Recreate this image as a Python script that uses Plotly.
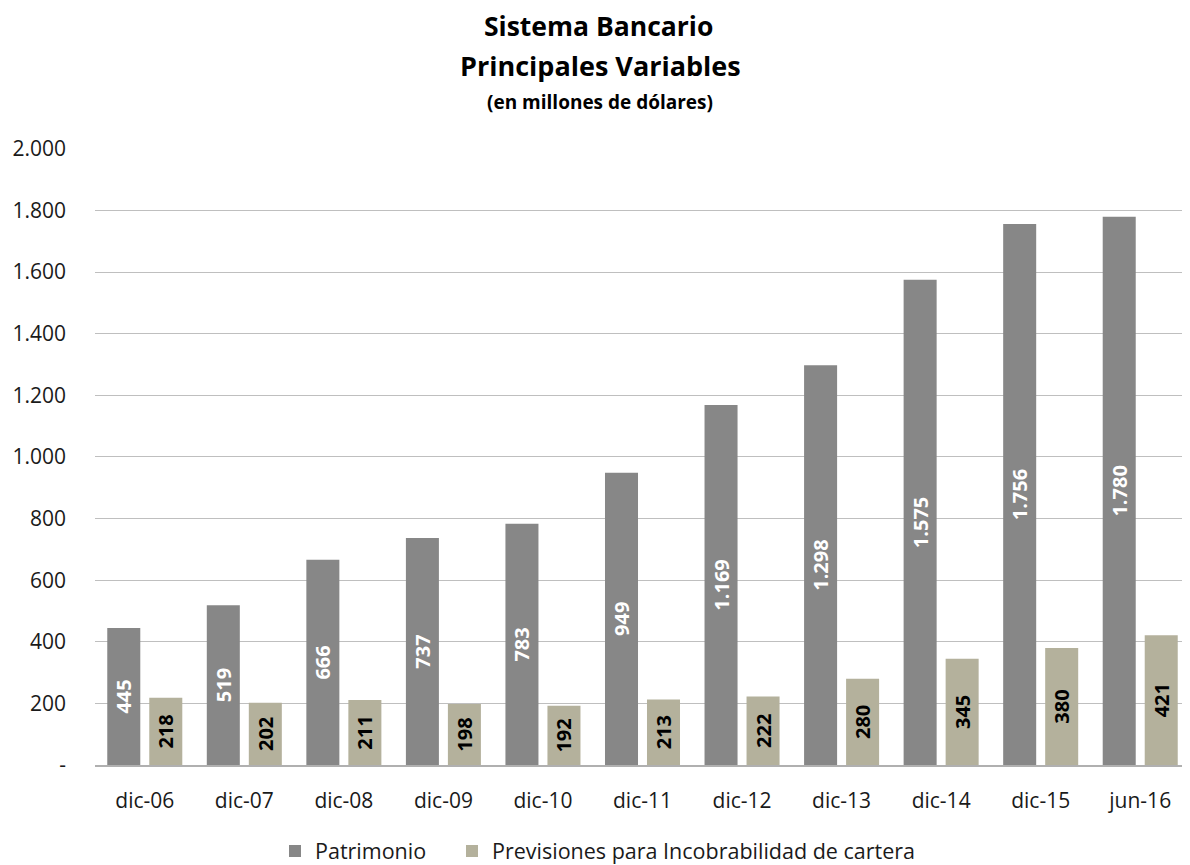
import plotly.graph_objects as go

categories = ["dic-06", "dic-07", "dic-08", "dic-09", "dic-10", "dic-11",
              "dic-12", "dic-13", "dic-14", "dic-15", "jun-16"]
patrimonio = [445, 519, 666, 737, 783, 949, 1169, 1298, 1575, 1756, 1780]
previsiones = [218, 202, 211, 198, 192, 213, 222, 280, 345, 380, 421]
y_tickvals = [0, 200, 400, 600, 800, 1000, 1200, 1400, 1600, 1800, 2000]
y_ticktext = ["-", "200", "400", "600", "800", "1.000", "1.200", "1.400",
              "1.600", "1.800", "2.000"]

FONT = "Open Sans"
DARK = "#878787"
BEIGE = "#b4b19c"
TXT = "#1a1a1a"

fig = go.Figure()
fig.add_trace(go.Bar(
    x=categories, y=patrimonio, name="Patrimonio", legend="legend",
    marker=dict(color=DARK, line=dict(width=0)),
    texttemplate="%{y:,.0f}", textposition="inside", insidetextanchor="middle",
    textangle=-90, textfont=dict(family=FONT, size=20, color="white", weight="bold"),
))
fig.add_trace(go.Bar(
    x=categories, y=previsiones, name="Previsiones para Incobrabilidad de cartera",
    legend="legend2",
    marker=dict(color=BEIGE, line=dict(width=0)),
    texttemplate="%{y:,.0f}", textposition="inside", insidetextanchor="middle",
    textangle=-90, textfont=dict(family=FONT, size=20, color="black", weight="bold"),
))

# page has an 8px body margin; figure coords are shifted accordingly
OFF = 8
L, R, T, B = 95, 1190, 148, 765
pw = float(R - L)
ph = float(B - T)
def px_x(p):
    return (p - L) / pw
def px_y(p):
    return (B - p) / ph

legend_common = dict(orientation="h", xanchor="left", y=px_y(851),
                     yanchor="middle", font=dict(family=FONT, size=21.5, color=TXT),
                     itemwidth=30, bgcolor="rgba(0,0,0,0)")

fig.update_layout(
    width=1190 - OFF, height=865 - OFF,
    margin=dict(l=L - OFF, r=0, t=T - OFF, b=865 - B, autoexpand=False),
    paper_bgcolor="white", plot_bgcolor="white",
    separators=",.",
    barmode="group", bargap=0.156, bargroupgap=0.214,
    font=dict(family=FONT, size=20, color=TXT),
    showlegend=True,
    legend=dict(x=px_x(292 - 17), **legend_common),
    legend2=dict(x=px_x(468 - 16), **legend_common),
    xaxis=dict(showgrid=False, showline=True, linecolor="#b0b0b0", linewidth=1.5,
               ticks="", tickfont=dict(family=FONT, size=21, color=TXT),
               ticklabelstandoff=16),
    yaxis=dict(range=[0, 2003], tickvals=y_tickvals, ticktext=y_ticktext,
               showgrid=True, gridcolor="#bfbfbf", gridwidth=1.2,
               zeroline=False, showline=False, ticks="",
               tickfont=dict(family=FONT, size=21, color=TXT),
               ticklabelstandoff=28),
    annotations=[
        dict(text="<b>Sistema Bancario</b>", xref="paper", yref="paper",
             x=px_x(598), y=px_y(26), xanchor="center", yanchor="middle",
             showarrow=False, font=dict(family=FONT, size=26.5, color="black")),
        dict(text="<b>Principales Variables</b>", xref="paper", yref="paper",
             x=px_x(600), y=px_y(65), xanchor="center", yanchor="middle",
             showarrow=False, font=dict(family=FONT, size=27, color="black")),
        dict(text="<b>(en millones de dólares)</b>", xref="paper", yref="paper",
             x=px_x(600), y=px_y(102), xanchor="center", yanchor="middle",
             showarrow=False, font=dict(family=FONT, size=19, color="black")),
    ],
)

fig.write_html("out.html")
